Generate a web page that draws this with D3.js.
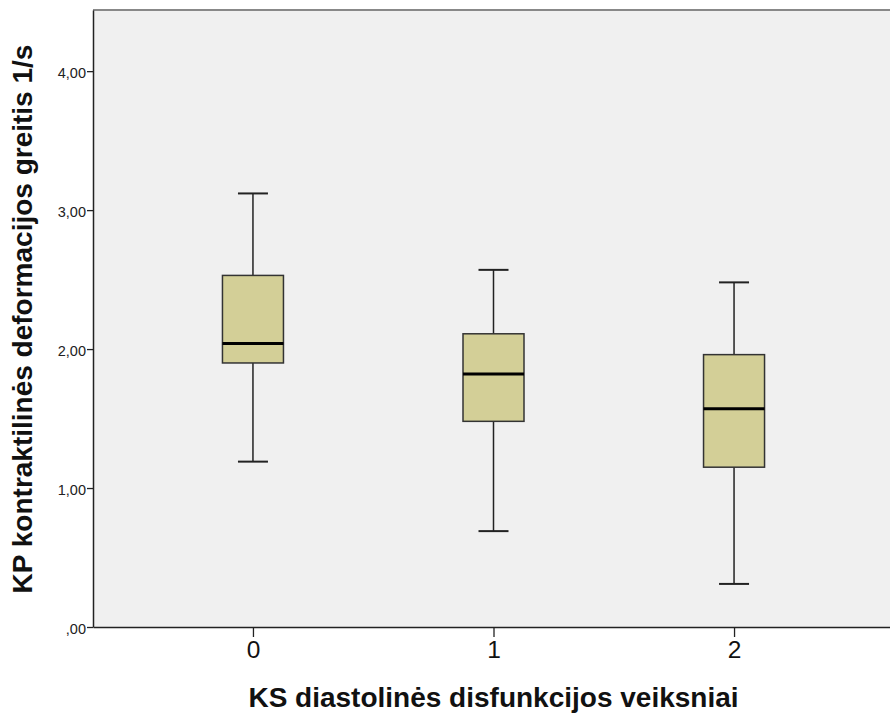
<!DOCTYPE html>
<html>
<head>
<meta charset="utf-8">
<script src="https://cdn.jsdelivr.net/npm/d3@7"></script>
<style>
  body { margin: 0; background: #fff; }
  svg { display: block; font-family: "Liberation Sans", Arial, sans-serif; }
</style>
</head>
<body>
<svg id="chart"></svg>
<script>
// data
const categories = ["0", "1", "2"];
const whiskerLow = [1.19, 0.69, 0.31];
const q1 = [1.90, 1.48, 1.15];
const median = [2.04, 1.82, 1.57];
const q3 = [2.53, 2.11, 1.96];
const whiskerHigh = [3.12, 2.57, 2.48];
const yTicks = [0, 1, 2, 3, 4];

const svgWidth = 890, svgHeight = 716;
const margin = { top: 10, right: -4, bottom: 89, left: 93 };
const width = svgWidth - margin.left - margin.right;
const height = svgHeight - margin.top - margin.bottom;

const svg = d3.select("#chart")
  .attr("width", svgWidth)
  .attr("height", svgHeight);

const g = svg.append("g")
  .attr("transform", "translate(" + margin.left + "," + margin.top + ")");

const x = d3.scalePoint().domain(categories).range([0, width]).padding(0.665);
const y = d3.scaleLinear().domain([0, 4.44]).range([height, 0]);

// plot background
g.append("rect")
  .attr("x", 0).attr("y", 0)
  .attr("width", width).attr("height", height)
  .attr("fill", "#f0f0f0");

g.append("line")
  .attr("x1", 0).attr("x2", width)
  .attr("y1", 0).attr("y2", 0)
  .attr("stroke", "#888").attr("stroke-width", 2);

// axes
const fmt = d => (d === 0 ? "" : d3.format(".0f")(d)) + ",00";

const yAxis = g.append("g")
  .call(d3.axisLeft(y).tickValues(yTicks).tickSize(6).tickSizeOuter(0).tickPadding(1).tickFormat(fmt));
yAxis.select(".domain").attr("stroke", "#222").attr("stroke-width", 1.5);
yAxis.selectAll(".tick line").attr("stroke", "#222").attr("stroke-width", 1.3);
yAxis.selectAll("text").attr("font-size", 14.5).attr("fill", "#222")
  .attr("dy", "0.42em")
  .attr("font-family", "Liberation Sans, Arial, sans-serif");

const xAxis = g.append("g")
  .attr("transform", "translate(0," + height + ")")
  .call(d3.axisBottom(x).tickSize(10).tickPadding(4).tickSizeOuter(0));
xAxis.select(".domain").attr("stroke", "#222").attr("stroke-width", 1.5);
xAxis.selectAll(".tick line").attr("stroke", "#222").attr("stroke-width", 1.3);
xAxis.selectAll("text").attr("font-size", 24.5).attr("fill", "#111")
  .attr("font-family", "Liberation Sans, Arial, sans-serif");

// boxes
const boxW = 61, capW = 30;
const boxes = g.selectAll(".box")
  .data(categories)
  .enter().append("g")
  .attr("class", "box")
  .attr("transform", d => "translate(" + x(d) + ",0)");

boxes.append("line")
  .attr("x1", 0).attr("x2", 0)
  .attr("y1", (d, i) => y(whiskerHigh[i]))
  .attr("y2", (d, i) => y(whiskerLow[i]))
  .attr("stroke", "#222").attr("stroke-width", 1.5);

boxes.append("line")
  .attr("x1", -capW / 2).attr("x2", capW / 2)
  .attr("y1", (d, i) => y(whiskerHigh[i]))
  .attr("y2", (d, i) => y(whiskerHigh[i]))
  .attr("stroke", "#222").attr("stroke-width", 2);

boxes.append("line")
  .attr("x1", -capW / 2).attr("x2", capW / 2)
  .attr("y1", (d, i) => y(whiskerLow[i]))
  .attr("y2", (d, i) => y(whiskerLow[i]))
  .attr("stroke", "#222").attr("stroke-width", 2);

boxes.append("rect")
  .attr("x", -boxW / 2)
  .attr("width", boxW)
  .attr("y", (d, i) => y(q3[i]))
  .attr("height", (d, i) => y(q1[i]) - y(q3[i]))
  .attr("fill", "#d3cf97")
  .attr("stroke", "#333").attr("stroke-width", 1.5);

boxes.append("line")
  .attr("x1", -boxW / 2).attr("x2", boxW / 2)
  .attr("y1", (d, i) => y(median[i]))
  .attr("y2", (d, i) => y(median[i]))
  .attr("stroke", "#000").attr("stroke-width", 3);

// axis titles
svg.append("text")
  .attr("x", margin.left + x("1"))
  .attr("y", 707)
  .attr("text-anchor", "middle")
  .attr("font-size", 28).attr("font-weight", "bold").attr("fill", "#111")
  .text("KS diastolinės disfunkcijos veiksniai");

svg.append("text")
  .attr("transform", "translate(32," + (margin.top + 309) + ") rotate(-90)")
  .attr("text-anchor", "middle")
  .attr("font-size", 28).attr("font-weight", "bold").attr("fill", "#111")
  .text("KP kontraktilinės deformacijos greitis 1/s");
</script>
</body>
</html>
